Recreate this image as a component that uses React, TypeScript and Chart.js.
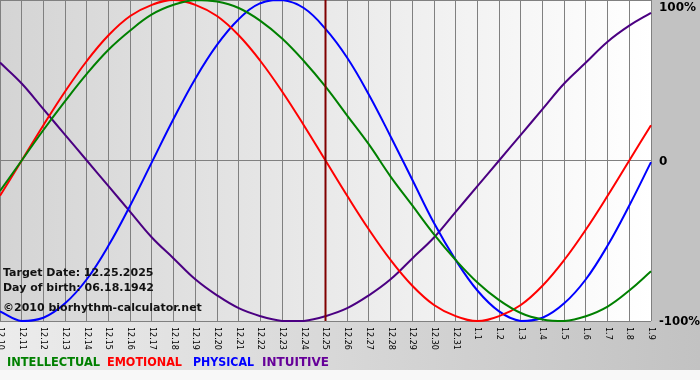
import React, { useEffect, useRef } from "react";
import { Chart, registerables } from "chart.js";

Chart.register(...registerables);

const dates = [
  "12.10", "12.11", "12.12", "12.13", "12.14", "12.15", "12.16", "12.17", "12.18", "12.19",
  "12.20", "12.21", "12.22", "12.23", "12.24", "12.25", "12.26", "12.27", "12.28", "12.29",
  "12.30", "12.31", "1.1", "1.2", "1.3", "1.4", "1.5", "1.6", "1.7", "1.8", "1.9",
];

const intellectual = [
  -19, 0, 19, 37, 54, 69, 81, 91, 97, 100, 99, 95, 87, 76, 62, 46, 28, 10, -10, -28,
  -46, -62, -76, -87, -95, -99, -100, -97, -91, -81, -69,
];
const emotional = [
  -22, 0, 22, 43, 62, 78, 90, 97, 100, 97, 90, 78, 62, 43, 22, 0, -22, -43, -62, -78,
  -90, -97, -100, -97, -90, -78, -62, -43, -22, 0, 22,
];
const physical = [
  -94, -100, -98, -89, -74, -53, -28, -1, 26, 51, 72, 88, 98, 100, 95, 82, 64, 41, 15, -12,
  -39, -62, -81, -94, -100, -98, -89, -74, -53, -28, -1,
];
const intuitive = [
  61, 48, 32, 16, 0, -16, -32, -48, -61, -74, -84, -92, -97, -100, -100, -97, -92, -84, -74, -61,
  -48, -32, -16, 0, 16, 32, 48, 61, 74, 84, 92,
];

const yTickValues = [100, 0, -100];
const yTickLabels = ["100%", "0", "-100%"];
const targetIndex = 15;
const infoLines = [
  "Target Date: 12.25.2025",
  "Day of birth: 06.18.1942",
  "\u00A92010 biorhythm-calculator.net",
];
const legendNames = ["INTELLECTUAL", "EMOTIONAL", "PHYSICAL", "INTUITIVE"];

const C_INT = "#008000";
const C_EMO = "#ff0000";
const C_PHY = "#0000ff";
const C_ITU = "#4b0082";
const legendColors = ["#008000", "#ff0000", "#0000ff", "#660099"];

const decorPlugin = {
  id: "decor",
  beforeDraw(chart: any) {
    const ctx = chart.ctx as CanvasRenderingContext2D;
    const { left, right, top, bottom } = chart.chartArea;
    const W = chart.width;
    const H = chart.height;
    ctx.save();
    ctx.fillStyle = "#f8f8f8";
    ctx.fillRect(0, 0, W, H);
    ctx.fillStyle = "#c2c2c2";
    ctx.fillRect(right, 0, W - right, bottom);
    const gb = ctx.createLinearGradient(0, 0, W, 0);
    gb.addColorStop(0, "#ececec");
    gb.addColorStop(1, "#c2c2c2");
    ctx.fillStyle = gb;
    ctx.fillRect(0, bottom, W, 370 - bottom);
    const gp = ctx.createLinearGradient(left, 0, right, 0);
    gp.addColorStop(0, "#d4d4d4");
    gp.addColorStop(1, "#ffffff");
    ctx.fillStyle = gp;
    ctx.fillRect(left, top, right - left, bottom - top);
    ctx.restore();
  },
  afterDatasetsDraw(chart: any) {
    const ctx = chart.ctx as CanvasRenderingContext2D;
    const { top, bottom, right } = chart.chartArea;
    const xs = chart.scales.x;
    const ys = chart.scales.y;
    ctx.save();
    const tx = xs.getPixelForValue(targetIndex);
    ctx.strokeStyle = "#800000";
    ctx.lineWidth = 2;
    ctx.beginPath();
    ctx.moveTo(tx, top);
    ctx.lineTo(tx, bottom);
    ctx.stroke();

    ctx.fillStyle = "#000000";
    ctx.font = "8px 'DejaVu Sans', Verdana, sans-serif";
    ctx.textAlign = "left";
    ctx.textBaseline = "middle";
    dates.forEach((d, i) => {
      const x = xs.getPixelForValue(i);
      ctx.save();
      ctx.translate(x, bottom + 6);
      ctx.rotate(Math.PI / 2);
      ctx.fillText(d, 0, 0, d.length >= 5 ? 23 : 16);
      ctx.restore();
    });

    ctx.font = "bold 12px 'DejaVu Sans', Verdana, sans-serif";
    ctx.textBaseline = "middle";
    yTickValues.forEach((v, i) => {
      let y = ys.getPixelForValue(v);
      if (y < 7) y = 7;
      ctx.fillText(yTickLabels[i], right + 8, y + 1, i === 2 ? 41 : i === 0 ? 38 : 20);
    });

    ctx.fillStyle = "#111111";
    ctx.textBaseline = "alphabetic";
    ctx.font = "bold 11px 'DejaVu Sans', Verdana, sans-serif";
    ctx.fillText(infoLines[0], 3, 276, 151);
    ctx.fillText(infoLines[1], 3, 291, 151);
    ctx.fillText(infoLines[2], 3, 311, 200);

    ctx.font = "bold 12px 'DejaVu Sans', Verdana, sans-serif";
    const lx = [7, 107, 193, 262];
    const lw = [93, 75, 61, 67];
    legendNames.forEach((n, i) => {
      ctx.fillStyle = legendColors[i];
      ctx.fillText(n, lx[i], 366, lw[i]);
    });
    ctx.restore();
  },
};

export default function App() {
  const ref = useRef<HTMLCanvasElement | null>(null);
  useEffect(() => {
    document.body.style.margin = "0";
    if (!ref.current) return;
    const mk = (label: string, data: number[], color: string) => ({
      label,
      data,
      borderColor: color,
      backgroundColor: color,
      borderWidth: 2,
      pointRadius: 0,
      tension: 0.4,
      fill: false,
      clip: false as any,
    });
    const chart = new Chart(ref.current, {
      type: "line",
      data: {
        labels: dates,
        datasets: [
          mk("INTELLECTUAL", intellectual, C_INT),
          mk("EMOTIONAL", emotional, C_EMO),
          mk("PHYSICAL", physical, C_PHY),
          mk("INTUITIVE", intuitive, C_ITU),
        ],
      },
      options: {
        responsive: false,
        animation: false,
        devicePixelRatio: 1,
        layout: { padding: 0 },
        plugins: { legend: { display: false }, tooltip: { enabled: false } },
        scales: {
          x: {
            type: "category",
            grid: { color: "#808080", drawTicks: false, lineWidth: 1 },
            border: { display: false },
            ticks: { display: false, autoSkip: false },
            afterFit: (s: any) => {
              s.height = 59;
            },
          },
          y: {
            position: "right",
            min: -100,
            max: 100,
            grid: { color: "#808080", drawTicks: false, lineWidth: 1 },
            border: { display: false },
            ticks: { display: false, stepSize: 100 },
            afterFit: (s: any) => {
              s.width = 49;
            },
          },
        },
      },
      plugins: [decorPlugin],
    });
    return () => chart.destroy();
  }, []);
  return (
    <div style={{ position: "fixed", left: 0, top: 0, width: 700, height: 380 }}>
      <canvas ref={ref} width={700} height={380} style={{ display: "block" }} />
    </div>
  );
}
